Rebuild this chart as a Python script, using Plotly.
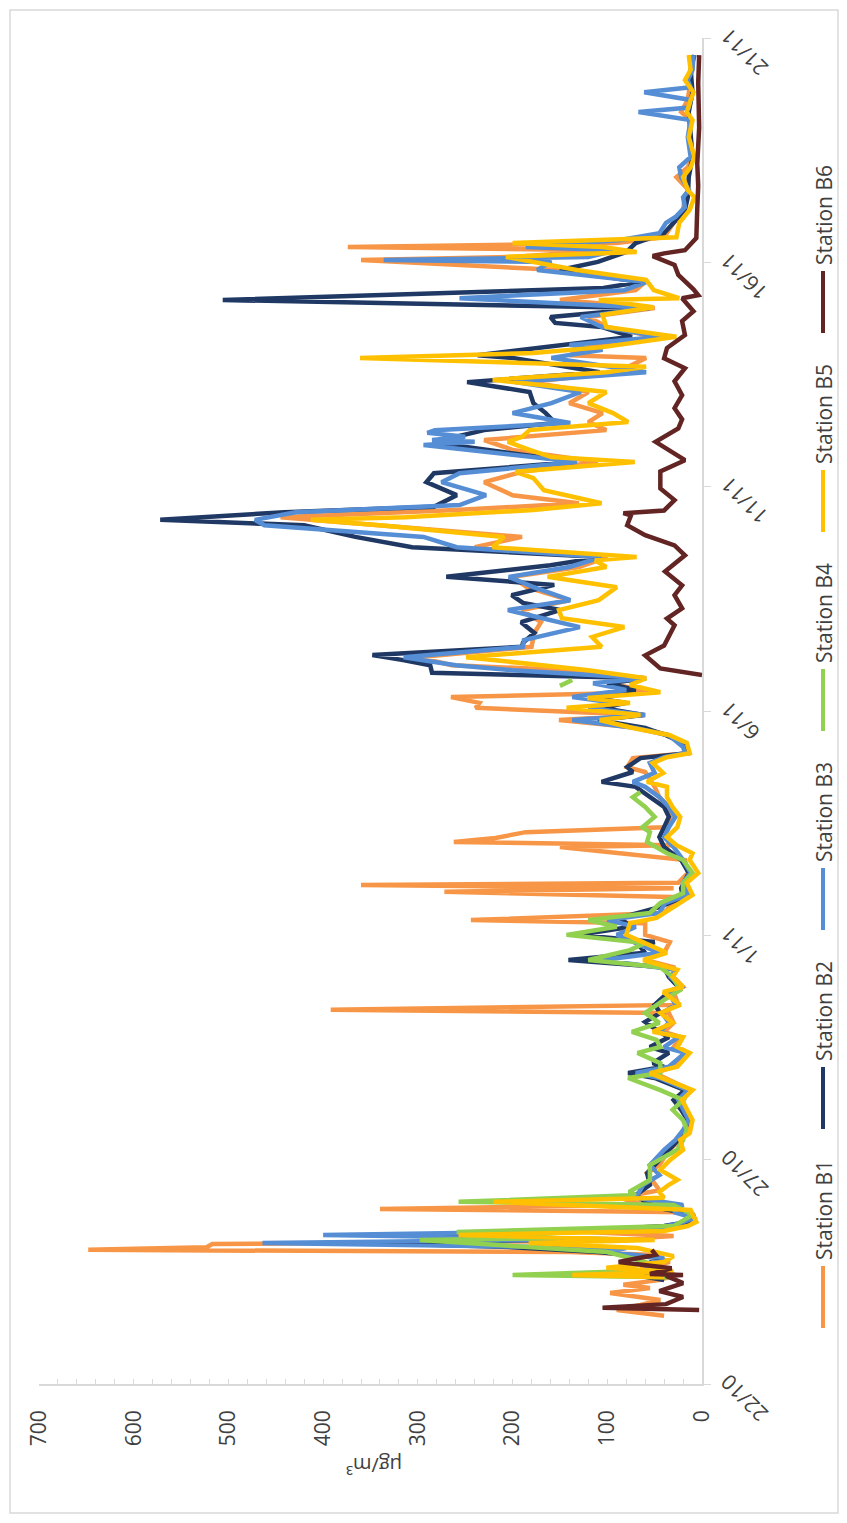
import plotly.graph_objects as go

# Hourly PM concentrations (µg/m³) for six stations, 22/10 – 21/11.
# Each point: (days after 22/10 00:00, concentration); None marks missing data.
b1 = [(1.52, 40), (1.65, 90), (1.76, 65), (1.87, 44), (2.03, 97), (2.14, 55), (2.21, 83), (2.32, 44),
      (2.43, 28), (2.59, 65), (2.72, 34), (2.88, 55), (2.94, 140), (2.99, 648), (3.05, 523), (3.12, 517),
      (3.19, 120), (3.30, 30), (3.41, 145), (3.52, 20), (3.70, 8), (3.83, 15), (3.90, 340), (3.99, 60),
      (4.15, 87), (4.32, 45), (4.70, 58), (4.88, 45), (5.22, 35), (5.44, 22), (5.66, 15), (5.88, 12),
      (6.11, 18), (6.33, 20), (6.55, 12), (6.82, 40), (6.93, 50), (7.07, 30), (7.38, 15), (7.51, 30),
      (7.73, 22), (7.85, 40), (8.05, 30), (8.27, 35), (8.34, 392), (8.45, 25), (8.74, 30), (8.85, 20),
      (9.07, 30), (9.29, 30), (9.45, 60), (9.61, 40), (9.85, 34), (10.01, 60), (10.27, 60), (10.34, 244),
      (10.50, 40), (10.72, 30), (10.85, 20), (10.97, 272), (11.05, 30), (11.12, 360), (11.17, 25),
      (11.39, 15), (11.68, 18), (11.97, 150), (12.01, 30), (12.08, 262), (12.17, 218), (12.30, 186),
      (12.41, 40), (12.64, 30), (12.86, 35), (13.08, 45), (13.31, 50), (13.64, 60), (13.75, 79),
      (13.95, 73), (14.06, 15), (14.29, 20), (14.46, 35), (14.62, 65), (14.80, 151), (14.91, 60),
      (15.07, 239), (15.18, 235), (15.31, 265), (15.42, 50), (15.62, 100), (15.73, 60), (15.91, 140),
      (16.02, 264), (16.20, 300), (16.43, 180), (16.74, 177), (16.98, 170), (17.25, 190), (17.47, 140),
      (17.76, 185), (17.99, 200), (18.21, 130), (18.43, 100), (18.65, 240), (18.88, 190), (19.10, 314),
      (19.32, 445), (19.48, 260), (19.63, 130), (19.81, 200), (20.10, 230), (20.33, 190), (20.55, 110),
      (20.82, 200), (21.04, 230), (21.26, 101), (21.44, 120), (21.64, 105), (21.86, 140), (22.11, 120),
      (22.33, 180), (22.55, 90), (22.87, 59), (22.93, 140), (23.11, 120), (23.34, 50), (23.56, 100),
      (23.78, 120), (23.98, 50), (24.16, 150), (24.38, 70), (24.56, 60), (24.83, 150), (25.05, 360),
      (25.12, 200), (25.27, 100), (25.34, 374), (25.43, 90), (25.56, 40), (25.88, 30), (26.17, 20),
      (26.45, 18), (26.61, 14), (26.90, 27), (27.12, 15), (27.35, 10), (27.79, 14), (28.17, 12),
      (28.35, 22), (28.62, 15), (29.06, 12), (29.62, 10)]

b2 = [(2.32, 40), (2.43, 70), (2.54, 45), (2.65, 60), (2.81, 45), (2.94, 110), (3.05, 200), (3.14, 350),
      (3.23, 120), (3.32, 300), (3.41, 130), (3.52, 40), (3.61, 15), (3.77, 8), (3.90, 40), (4.06, 60),
      (4.21, 70), (4.44, 55), (4.70, 58), (4.88, 50), (4.99, 45), (5.22, 35), (5.44, 25), (5.66, 18),
      (5.88, 15), (6.11, 22), (6.33, 30), (6.55, 18), (6.82, 50), (6.93, 78), (7.07, 40), (7.15, 52),
      (7.38, 35), (7.51, 55), (7.73, 35), (7.85, 45), (8.07, 60), (8.27, 44), (8.45, 50), (8.74, 35),
      (8.85, 25), (9.07, 35), (9.29, 40), (9.45, 141), (9.61, 60), (9.74, 65), (9.85, 50), (10.01, 130),
      (10.19, 75), (10.39, 87), (10.63, 45), (10.85, 20), (11.05, 22), (11.39, 14), (11.68, 22),
      (11.97, 40), (12.19, 45), (12.41, 40), (12.64, 35), (12.86, 40), (13.08, 55), (13.31, 70),
      (13.42, 106), (13.64, 73), (13.75, 79), (13.95, 65), (14.06, 15), (14.29, 20), (14.46, 38),
      (14.62, 60), (14.80, 110), (14.91, 62), (15.07, 105), (15.18, 80), (15.31, 120), (15.47, 70),
      (15.62, 100), (15.73, 59), (15.85, 285), (16.02, 287), (16.14, 317), (16.25, 348), (16.43, 190),
      (16.52, 189), (16.74, 177), (16.98, 191), (17.25, 150), (17.41, 189), (17.58, 201), (17.81, 156),
      (17.99, 270), (18.25, 160), (18.43, 106), (18.65, 306), (18.88, 366), (19.14, 420), (19.26, 572),
      (19.43, 441), (19.55, 283), (19.81, 259), (20.10, 291), (20.30, 283), (20.55, 134), (20.75, 200),
      (20.88, 247), (20.93, 279), (21.04, 275), (21.26, 230), (21.42, 155), (21.64, 165), (21.86, 178),
      (22.11, 182), (22.33, 248), (22.55, 108), (22.87, 200), (22.93, 237), (23.16, 148), (23.34, 74),
      (23.56, 106), (23.65, 155), (23.78, 160), (23.98, 55), (24.16, 506), (24.43, 104), (24.56, 65),
      (24.83, 150), (25.01, 110), (25.23, 80), (25.43, 70), (25.65, 40), (25.88, 30), (26.17, 18),
      (26.45, 15), (26.90, 14), (27.35, 10), (27.79, 12), (28.35, 14), (28.79, 10), (29.29, 12),
      (29.62, 8)]

b3 = [(2.38, 35), (2.50, 55), (2.65, 60), (2.81, 40), (2.94, 100), (3.03, 80), (3.14, 464), (3.23, 100),
      (3.32, 400), (3.43, 60), (3.57, 25), (3.70, 8), (3.83, 30), (3.99, 20), (4.15, 70), (4.44, 62),
      (4.66, 45), (4.88, 55), (4.99, 50), (5.22, 40), (5.44, 28), (5.66, 20), (5.88, 14), (6.11, 20),
      (6.33, 25), (6.55, 15), (6.82, 45), (6.93, 70), (7.07, 35), (7.38, 18), (7.51, 40), (7.73, 25),
      (7.85, 45), (8.05, 35), (8.27, 42), (8.45, 28), (8.74, 35), (8.85, 22), (9.07, 33), (9.23, 28),
      (9.45, 105), (9.61, 45), (9.74, 60), (10.01, 90), (10.19, 70), (10.34, 100), (10.50, 45),
      (10.72, 39), (10.90, 15), (11.17, 20), (11.39, 12), (11.68, 20), (11.97, 30), (12.19, 40),
      (12.41, 35), (12.64, 28), (12.86, 35), (13.08, 45), (13.31, 60), (13.42, 73), (13.62, 50),
      (13.84, 55), (13.97, 40), (14.06, 18), (14.20, 20), (14.46, 35), (14.62, 70), (14.80, 137),
      (14.91, 60), (15.07, 120), (15.18, 90), (15.31, 137), (15.47, 80), (15.62, 115), (15.73, 60),
      (15.91, 200), (16.02, 260), (16.20, 315), (16.43, 189), (16.58, 188), (16.87, 129), (17.07, 170),
      (17.25, 205), (17.47, 139), (17.76, 178), (17.99, 204), (18.21, 140), (18.43, 106), (18.65, 259),
      (18.88, 294), (19.14, 462), (19.26, 472), (19.43, 429), (19.59, 256), (19.81, 228), (20.10, 275),
      (20.30, 256), (20.55, 132), (20.88, 279), (20.93, 294), (21.00, 240), (21.04, 285), (21.11, 250),
      (21.20, 290), (21.26, 282), (21.42, 139), (21.64, 200), (21.86, 159), (22.11, 128), (22.33, 197),
      (22.55, 59), (22.87, 159), (23.05, 105), (23.16, 140), (23.34, 43), (23.56, 106), (23.78, 128),
      (23.98, 55), (24.20, 256), (24.38, 82), (24.56, 59), (24.83, 174), (25.01, 159), (25.05, 336),
      (25.12, 120), (25.27, 90), (25.34, 186), (25.50, 86), (25.65, 45), (25.88, 38), (26.01, 28),
      (26.23, 18), (26.45, 20), (26.61, 14), (26.90, 22), (27.12, 24), (27.35, 12), (27.79, 15),
      (28.17, 12), (28.35, 67), (28.45, 14), (28.62, 12), (28.79, 61), (28.90, 12), (29.06, 15),
      (29.29, 10), (29.62, 9)]

b4 = [(2.38, 30), (2.43, 200), (2.54, 40), (2.72, 60), (2.94, 100), (3.21, 298), (3.25, 150), (3.39, 259),
      (3.52, 30), (3.77, 10), (3.99, 30), (4.06, 257), (4.21, 70), (4.28, 77), (4.55, 55), (4.88, 55),
      (5.22, 26), (5.44, 20), (5.66, 16), (5.88, 20), (6.11, 31), (6.33, 20), (6.55, 44), (6.82, 78),
      (6.93, 44), (7.15, 44), (7.38, 68), (7.51, 44), (7.67, 48), (7.85, 74), (8.05, 45), (8.27, 60),
      (8.56, 40), (8.78, 23), (9.07, 31), (9.29, 44), (9.45, 120), (9.67, 76), (9.83, 60), (10.01, 143),
      (10.19, 90), (10.34, 120), (10.50, 55), (10.72, 44), (10.94, 20), (11.17, 20), (11.39, 10),
      (11.68, 20), (11.83, 37), (12.08, 58), (12.30, 55), (12.41, 63), (12.64, 50), (12.86, 60),
      (13.08, 73), (13.19, 65), (13.25, None), (15.56, 150), (15.69, 137)]

b5 = [(2.38, 40), (2.43, 137), (2.50, 30), (2.59, 101), (2.72, 40), (2.85, 30), (3.03, 68), (3.14, 183),
      (3.21, 50), (3.32, 257), (3.41, 40), (3.52, 15), (3.61, 6), (3.83, 10), (3.88, 12), (4.06, 220),
      (4.15, 40), (4.28, 45), (4.44, 35), (4.55, 26), (4.77, 44), (4.99, 34), (5.22, 20), (5.44, 23),
      (5.59, 13), (5.88, 10), (6.11, 16), (6.33, 21), (6.55, 10), (6.82, 41), (6.93, 55), (7.07, 26),
      (7.38, 13), (7.51, 26), (7.73, 20), (7.85, 52), (8.05, 31), (8.27, 44), (8.45, 23), (8.74, 41),
      (8.85, 20), (9.07, 31), (9.23, 26), (9.45, 62), (9.61, 37), (10.01, 80), (10.27, 76), (10.39, 48),
      (10.72, 23), (10.90, 10), (11.17, 16), (11.39, 4), (11.68, 13), (11.83, 10), (12.01, 27),
      (12.19, 37), (12.41, 26), (12.64, 23), (12.86, 31), (13.08, 37), (13.31, 37), (13.42, 58),
      (13.62, 41), (13.84, 52), (13.97, 37), (14.06, 13), (14.29, 16), (14.46, 34), (14.62, 73),
      (14.80, 108), (14.91, 65), (15.07, 143), (15.18, 76), (15.29, 121), (15.42, 44), (15.58, 76),
      (15.73, 59), (15.91, 120), (16.20, 249), (16.43, 106), (16.65, 116), (16.87, 82), (17.07, 148),
      (17.25, 151), (17.47, 109), (17.76, 90), (17.99, 163), (18.21, 101), (18.36, 113), (18.43, 69),
      (18.65, 221), (18.88, 209), (19.14, 340), (19.26, 413), (19.32, 313), (19.48, 178), (19.63, 106),
      (19.81, 144), (19.92, 167), (20.19, 178), (20.33, 197), (20.55, 71), (20.66, 159), (20.82, 182),
      (21.00, 205), (21.11, 190), (21.26, 182), (21.44, 78), (21.64, 94), (21.86, 120), (22.11, 101),
      (22.38, 221), (22.55, 101), (22.67, 59), (22.87, 361), (22.98, 178), (23.11, 105), (23.34, 27),
      (23.56, 101), (23.83, 105), (24.00, 51), (24.16, 109), (24.20, 24), (24.38, 51), (24.61, 59),
      (24.83, 132), (25.12, 207), (25.23, 69), (25.34, 105), (25.43, 200), (25.56, 27), (25.88, 24),
      (26.17, 13), (26.45, 8), (26.61, 15), (26.90, 20), (27.12, 12), (27.35, 8), (27.79, 14),
      (28.17, 10), (28.35, 16), (28.62, 12), (28.79, 9), (29.06, 18), (29.29, 12), (29.62, 14)]

b6 = [(1.65, 3), (1.70, 105), (1.78, 38), (1.94, 20), (2.07, 45), (2.25, 20), (2.41, 38), (2.43, 20),
      (2.45, 55), (2.58, 32), (2.72, 88), (2.88, 49), (2.99, 53), (3.05, None), (15.80, 0), (15.95, 44),
      (16.24, 60), (16.46, 40), (16.91, 29), (17.06, 37), (17.29, 21), (17.58, 29), (17.80, 21),
      (18.11, 39), (18.47, 18), (18.69, 29), (18.92, 60), (19.14, 79), (19.36, 75), (19.41, 83),
      (19.47, 40), (19.70, 29), (19.96, 44), (20.34, 44), (20.59, 18), (20.79, 33), (21.00, 49),
      (21.30, 25), (21.50, 21), (21.75, 29), (22.04, 21), (22.35, 29), (22.64, 18), (22.86, 40),
      (23.09, 37), (23.38, 18), (23.69, 21), (23.91, 9), (24.20, 21), (24.27, 4), (24.40, 9),
      (24.72, 25), (24.94, 29), (25.14, 52), (25.20, 40), (25.27, 18), (25.54, 6), (26.20, 5),
      (26.70, 4), (27.20, 5), (28.00, 3), (29.00, 4), (29.62, 3)]

station_names = ["Station B1", "Station B2", "Station B3", "Station B4", "Station B5", "Station B6"]
station_colors = ["#F79646", "#1F3864", "#558ED5", "#92D050", "#FFC000", "#632523"]
station_data = [b1, b2, b3, b4, b5, b6]

date_ticks = [0, 5, 10, 15, 20, 25, 30]
date_labels = ["22/10", "27/10", "1/11", "6/11", "11/11", "16/11", "21/11"]
value_ticks = [0, 100, 200, 300, 400, 500, 600, 700]

W, H = 847, 1523
ML, MR, MT, MB = 39, 145, 38, 139
PW, PH = W - ML - MR, H - MT - MB
FONT = "Open Sans"
TEXT = "#404040"
AXIS = "#d9d9d9"


def fx(px):
    return (px - ML) / PW


def fy(py):
    return (H - MB - py) / PH


fig = go.Figure()
for name, pts, col in zip(station_names, station_data, station_colors):
    fig.add_trace(go.Scatter(
        x=[p[1] for p in pts], y=[p[0] for p in pts], mode="lines", name=name,
        line=dict(color=col, width=4.5), connectgaps=False, showlegend=False,
    ))

fig.update_layout(
    width=W, height=H, margin=dict(l=ML, r=MR, t=MT, b=MB),
    paper_bgcolor="white", plot_bgcolor="white", showlegend=False,
    font=dict(family=FONT, color=TEXT, size=21),
    xaxis=dict(
        range=[700, 0], tickvals=value_ticks, tickangle=-90, ticks="inside", ticklen=5,
        tickcolor=AXIS, showline=True, linecolor=AXIS, linewidth=1.5, showgrid=False,
        zeroline=False, ticklabelstandoff=16, tickfont=dict(size=21, color=TEXT),
        minor=dict(dtick=20, ticks="inside", ticklen=5, tickcolor=AXIS),
    ),
    yaxis=dict(
        range=[0, 30], side="right", tickvals=date_ticks, showticklabels=False,
        ticks="outside", ticklen=7, tickcolor=AXIS, showline=True, linecolor=AXIS,
        linewidth=1.5, showgrid=False, zeroline=False,
    ),
)

annotations = []
# rotated date labels beside the right-hand axis
for t, lab in zip(date_ticks, date_labels):
    short = len(lab) < 5
    annotations.append(dict(
        x=fx(740 if short else 744), xref="paper", y=t, yref="y",
        yshift=-(10 if short else 14), text=lab, showarrow=False, textangle=-135,
        xanchor="center", yanchor="middle", font=dict(size=21, color=TEXT),
    ))

# axis title, turned with the chart
annotations.append(dict(
    x=fx(374), y=fy(1466), xref="paper", yref="paper", text="µg/m³", showarrow=False,
    textangle=180, xanchor="center", yanchor="middle", font=dict(size=20, color=TEXT),
))

shapes = [dict(type="rect", xref="paper", yref="paper", x0=fx(10), x1=fx(838), y0=fy(1513),
               y1=fy(10), line=dict(color=AXIS, width=1.5), layer="below")]

# legend column on the right
for i, (name, col) in enumerate(zip(station_names, station_colors)):
    top = 1266 - 199 * i
    shapes.append(dict(type="line", xref="paper", yref="paper", x0=fx(823), x1=fx(823),
                       y0=fy(top + 62), y1=fy(top), line=dict(color=col, width=4)))
    annotations.append(dict(
        x=fx(824), y=fy(top - 56), xref="paper", yref="paper", text=name, showarrow=False,
        textangle=-90, xanchor="center", yanchor="middle", font=dict(size=21, color=TEXT),
    ))

fig.update_layout(annotations=annotations, shapes=shapes)
fig.write_html("out.html")
